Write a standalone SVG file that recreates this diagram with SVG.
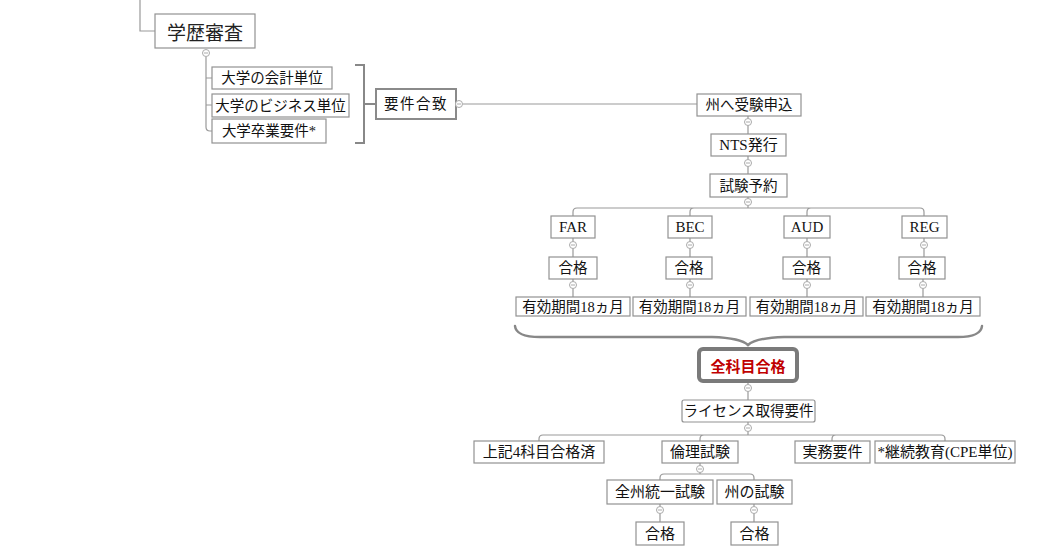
<svg xmlns="http://www.w3.org/2000/svg" width="1047" height="550" viewBox="0 0 1047 550">
<style>
.bg{fill:#fff}
.box{fill:#fff;stroke:#929292;stroke-width:1.2}
.box2{fill:#fff;stroke:#8a8a8a;stroke-width:2}
.key{fill:#fff;stroke:#7a7a7a;stroke-width:4}
.ln{fill:none;stroke:#999;stroke-width:1.2}
.br{fill:none;stroke:#888;stroke-width:2}
.brace{fill:none;stroke:#888;stroke-width:2.5;stroke-linecap:round}
.t{font-family:"Liberation Serif","Noto Sans CJK JP",serif;font-size:14.5px;fill:#111;text-anchor:middle;dominant-baseline:central}
.tl{font-size:15px}
.big{font-family:"Noto Sans CJK JP",sans-serif;font-size:19px;fill:#222;text-anchor:middle;dominant-baseline:central}
.red{font-family:"Noto Sans CJK JP",sans-serif;font-size:15px;font-weight:bold;fill:#c00000;text-anchor:middle;dominant-baseline:central}
.c{fill:#fff;stroke:#aaa;stroke-width:1}
.m{stroke:#aaa;stroke-width:1}
</style>
<defs>
<g id="col"><circle class="c" cx="0" cy="0" r="3.5"/><line class="m" x1="-2" y1="0" x2="2" y2="0"/></g>
</defs>
<rect class="bg" x="0" y="0" width="1047" height="550"/>
<g id="connectors">
<path class="ln" d="M140,0 V31 H155"/>
<path class="ln" d="M206,57 V127 Q206,131 210,131 H212 M206,78 H212 M206,105 H212"/>
<path class="br" d="M355,65 H364 V143 H355 M364,104 H375"/>
<path class="ln" d="M463,104 H697"/>
<path class="ln" d="M748,116 V134 M748,156 V174 M748,197 V208"/>
<path class="ln" d="M573,216 V212 Q573,208 577,208 H920 Q924,208 924,212 V216 M690,216 V212 Q690,208 694,208 M807,216 V212 Q807,208 811,208"/>
<path class="ln" d="M573,238 V257 M690,238 V257 M807,238 V257 M924,238 V257"/>
<path class="ln" d="M573,279 V297 M690,279 V297 M807,279 V297 M923,279 V297"/>
<path class="brace" d="M515,326 Q516,337 540,337 L712,337 Q741,338 748,345 Q755,338 784,337 L958,337 Q981,337 982,326"/>
<path class="ln" d="M748,381 V400 M748,422 V435"/>
<path class="ln" d="M539,441 V439 Q539,435 543,435 H941 Q945,435 945,439 V441 M700,441 V439 Q700,435 704,435 M832,441 V439 Q832,435 836,435"/>
<path class="ln" d="M700,463 V474"/>
<path class="ln" d="M660,480 V478 Q660,474 664,474 H750 Q754,474 754,478 V480"/>
<path class="ln" d="M660,504 V522 M754,504 V522"/>
</g>
<g id="n-gakureki"><rect class="box" x="155" y="14" width="100" height="34"/><text class="big" x="205" y="31">学歴審査</text><use href="#col" x="206" y="53"/></g>
<g id="n-kaikei"><rect class="box" x="212" y="67" width="120" height="22"/><text class="t" x="272" y="78">大学の会計単位</text></g>
<g id="n-business"><rect class="box" x="212" y="94" width="137" height="23"/><text class="t" x="280.5" y="105.5" font-size="13.5">大学のビジネス単位</text></g>
<g id="n-sotsugyo"><rect class="box" x="212" y="119" width="114" height="24"/><text class="t" x="269" y="131">大学卒業要件*</text></g>
<g id="n-youken"><rect class="box2" x="376" y="89" width="80" height="30"/><text class="t" x="416" y="104" letter-spacing="1.5">要件合致</text><use href="#col" x="459" y="104"/></g>
<g id="n-moushikomi"><rect class="box" x="697" y="94" width="104" height="22"/><text class="t" x="749" y="105">州へ受験申込</text><use href="#col" x="748" y="122"/></g>
<g id="n-nts"><rect class="box" x="711" y="134" width="75" height="22"/><text class="t tl" x="748.5" y="145">NTS発行</text><use href="#col" x="748" y="163"/></g>
<g id="n-yoyaku"><rect class="box" x="710" y="174" width="77" height="23"/><text class="t" x="748.5" y="185.5">試験予約</text><use href="#col" x="748" y="202"/></g>
<g id="n-far"><rect class="box" x="551" y="216" width="44" height="22"/><text class="t tl" x="573" y="227">FAR</text><use href="#col" x="573" y="245"/></g>
<g id="n-bec"><rect class="box" x="668" y="216" width="44" height="22"/><text class="t tl" x="690" y="227">BEC</text><use href="#col" x="690" y="245"/></g>
<g id="n-aud"><rect class="box" x="784" y="216" width="46" height="22"/><text class="t tl" x="807" y="227">AUD</text><use href="#col" x="807" y="245"/></g>
<g id="n-reg"><rect class="box" x="902" y="216" width="45" height="22"/><text class="t tl" x="924.5" y="227">REG</text><use href="#col" x="924" y="245"/></g>
<g id="n-far-p"><rect class="box" x="549" y="257" width="48" height="22"/><text class="t" x="573" y="268">合格</text><use href="#col" x="573" y="285"/></g>
<g id="n-bec-p"><rect class="box" x="666" y="257" width="46" height="22"/><text class="t" x="689" y="268">合格</text><use href="#col" x="690" y="285"/></g>
<g id="n-aud-p"><rect class="box" x="783" y="257" width="47" height="22"/><text class="t" x="806.5" y="268">合格</text><use href="#col" x="807" y="285"/></g>
<g id="n-reg-p"><rect class="box" x="899" y="257" width="46" height="22"/><text class="t" x="922" y="268">合格</text><use href="#col" x="923" y="285"/></g>
<g id="n-far-v"><rect class="box" x="516" y="297" width="114" height="19"/><text class="t" x="573" y="306.5" font-size="13.5">有効期間18ヵ月</text></g>
<g id="n-bec-v"><rect class="box" x="633" y="297" width="113" height="19"/><text class="t" x="689.5" y="306.5" font-size="13.5">有効期間18ヵ月</text></g>
<g id="n-aud-v"><rect class="box" x="750" y="297" width="113" height="19"/><text class="t" x="806.5" y="306.5" font-size="13.5">有効期間18ヵ月</text></g>
<g id="n-reg-v"><rect class="box" x="866" y="297" width="114" height="19"/><text class="t" x="923" y="306.5" font-size="13.5">有効期間18ヵ月</text></g>
<g id="n-zenkamoku"><rect class="key" x="699" y="349" width="98" height="32" rx="4"/><text class="red" x="748" y="365">全科目合格</text><use href="#col" x="748" y="388"/></g>
<g id="n-license"><rect class="box" x="682" y="400" width="133" height="22" rx="2"/><text class="t" x="748.5" y="411" font-size="14">ライセンス取得要件</text><use href="#col" x="748" y="428"/></g>
<g id="n-4kamoku"><rect class="box" x="474" y="441" width="130" height="22"/><text class="t tl" x="539" y="452">上記4科目合格済</text></g>
<g id="n-rinri"><rect class="box" x="662" y="441" width="76" height="22"/><text class="t tl" x="700" y="452">倫理試験</text><use href="#col" x="700" y="469"/></g>
<g id="n-jitsumu"><rect class="box" x="795" y="441" width="75" height="22"/><text class="t tl" x="832.5" y="452">実務要件</text></g>
<g id="n-cpe"><rect class="box" x="875" y="441" width="140" height="22"/><text class="t tl" x="945" y="452">*継続教育(CPE単位)</text></g>
<g id="n-zenshu"><rect class="box" x="607" y="480" width="106" height="24"/><text class="t tl" x="660" y="492">全州統一試験</text><use href="#col" x="660" y="510"/></g>
<g id="n-shu"><rect class="box" x="717" y="480" width="75" height="24"/><text class="t tl" x="754.5" y="492">州の試験</text><use href="#col" x="754" y="510"/></g>
<g id="n-zenshu-p"><rect class="box" x="636" y="522" width="48" height="23"/><text class="t tl" x="660" y="533.5">合格</text></g>
<g id="n-shu-p"><rect class="box" x="731" y="522" width="47" height="23"/><text class="t tl" x="754.5" y="533.5">合格</text></g>
</svg>
